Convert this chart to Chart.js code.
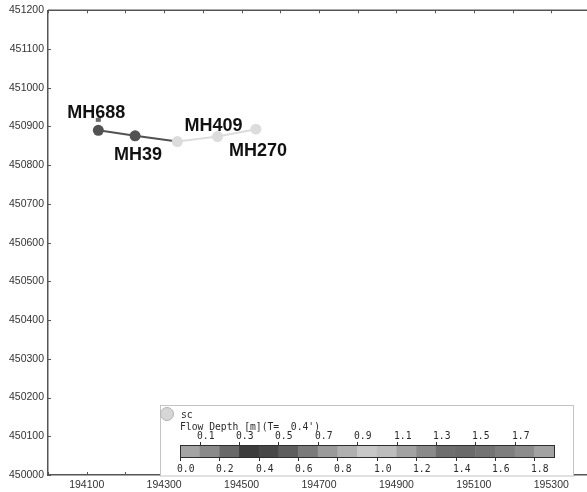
<!DOCTYPE html>
<html>
<head>
<meta charset="utf-8">
<script src="https://cdn.jsdelivr.net/npm/chart.js@4/dist/chart.umd.min.js"></script>
<style>
  html, body { margin: 0; padding: 0; background: #ffffff; overflow: hidden; }
  #wrap { width: 596px; height: 492px; }
</style>
</head>
<body>
<div id="wrap"><canvas id="c" width="596" height="492"></canvas></div>
<script>
// Manhole nodes along the pipe (map coordinates)
const nodeNames = ['MH688', 'MH39', '', 'MH409', 'MH270'];
const eastings  = [194130, 194225, 194334, 194438, 194537];
const northings = [450890, 450876, 450861, 450874, 450893];
// Flow-depth shade of each node (dark = deeper)
const nodeShades = ['#525252', '#525252', '#dcdcdc', '#dcdcdc', '#dcdcdc'];

// Flow depth colour scale (0.0 – 1.9 m, 0.1 m classes)
const depthMax = 1.9;
const depthColors = ['#a4a4a4', '#8a8a8a', '#686868', '#3c3c3c', '#474747', '#5e5e5e', '#7a7a7a',
                     '#9a9a9a', '#b0b0b0', '#c8c8c8', '#bdbdbd', '#a2a2a2', '#8a8a8a', '#6e6e6e',
                     '#6a6a6a', '#737373', '#7e7e7e', '#8c8c8c', '#a2a2a2'];
const depthLabelsTop    = ['0.1', '0.3', '0.5', '0.7', '0.9', '1.1', '1.3', '1.5', '1.7'];
const depthLabelsBottom = ['0.0', '0.2', '0.4', '0.6', '0.8', '1.0', '1.2', '1.4', '1.6', '1.8'];
const legendTitle = 'sc';
const legendCaption = "Flow Depth [m](T=  0.4')";

// Axis ranges
const xMin = 194000, xMax = 195400, yMin = 450000, yMax = 451200, tickStep = 100;

// Label placement around each node: [dx, baseline dy]
const nameOffsets = [[-2, -12], [3, 24], [0, 0], [-4, -6], [2, 27]];

const axisColor = '#555555';

const frameTicks = {
  id: 'frameTicks',
  afterDraw(chart) {
    const { ctx, chartArea: a, scales: { x, y } } = chart;
    ctx.save();
    ctx.strokeStyle = axisColor;
    ctx.lineWidth = 1.5;
    ctx.beginPath();
    ctx.moveTo(a.left, a.top); ctx.lineTo(a.right, a.top); ctx.lineTo(a.right, a.bottom);
    ctx.stroke();
    ctx.lineWidth = 1;
    ctx.beginPath();
    x.ticks.forEach(t => {
      const px = Math.round(x.getPixelForValue(t.value)) + 0.5;
      ctx.moveTo(px, a.bottom); ctx.lineTo(px, a.bottom - 3);
      ctx.moveTo(px, a.top); ctx.lineTo(px, a.top + 3);
    });
    y.ticks.forEach(t => {
      const py = Math.round(y.getPixelForValue(t.value)) + 0.5;
      ctx.moveTo(a.left, py); ctx.lineTo(a.left + 3, py);
      ctx.moveTo(a.right, py); ctx.lineTo(a.right - 3, py);
    });
    ctx.stroke();
    ctx.restore();
  }
};

const nodeLabels = {
  id: 'nodeLabels',
  afterDatasetsDraw(chart) {
    const { ctx } = chart;
    const pts = chart.getDatasetMeta(0).data;
    ctx.save();
    // small flag marker at the upstream node
    ctx.fillStyle = '#6a6a6a';
    ctx.fillRect(pts[0].x - 2.5, pts[0].y - 12.5, 5, 4);
    ctx.font = 'bold 18px "Liberation Sans", Arial, sans-serif';
    ctx.fillStyle = '#111111';
    ctx.textAlign = 'center';
    ctx.textBaseline = 'alphabetic';
    nodeNames.forEach((name, i) => {
      if (!name) return;
      ctx.fillText(name, pts[i].x + nameOffsets[i][0], pts[i].y + nameOffsets[i][1]);
    });
    ctx.restore();
  }
};

const depthLegend = {
  id: 'depthLegend',
  afterDraw(chart) {
    const { ctx } = chart;
    const box = { l: 160.5, t: 405.5, r: 573.5, b: 476 };
    const bar = { l: 180, r: 554, t: 445, b: 457 };
    const vx = v => bar.l + (v / depthMax) * (bar.r - bar.l);
    ctx.save();
    ctx.fillStyle = '#ffffff';
    ctx.fillRect(box.l, box.t, box.r - box.l, box.b - box.t);
    ctx.strokeStyle = '#c4c4c4';
    ctx.lineWidth = 1;
    ctx.strokeRect(box.l, box.t, box.r - box.l, box.b - box.t);

    // symbol
    ctx.beginPath();
    ctx.arc(167, 414, 6.5, 0, Math.PI * 2);
    ctx.fillStyle = '#d6d6d6';
    ctx.fill();
    ctx.strokeStyle = '#b4b4b4';
    ctx.stroke();

    ctx.font = '9.7px "DejaVu Sans Mono", monospace';
    ctx.fillStyle = '#2a2a2a';
    ctx.textAlign = 'left';
    ctx.textBaseline = 'alphabetic';
    ctx.fillText(legendTitle, 181, 418);
    ctx.fillText(legendCaption, 180, 430);

    // colour classes
    depthColors.forEach((c, i) => {
      const x0 = vx(i * 0.1), x1 = vx((i + 1) * 0.1);
      ctx.fillStyle = c;
      ctx.fillRect(x0, bar.t, x1 - x0 + 0.5, bar.b - bar.t);
    });
    ctx.strokeStyle = '#2e2e2e';
    ctx.strokeRect(bar.l + 0.5, bar.t + 0.5, bar.r - bar.l, bar.b - bar.t);

    ctx.fillStyle = '#2a2a2a';
    ctx.beginPath();
    depthLabelsTop.forEach(s => {
      const px = Math.round(vx(parseFloat(s))) + 0.5;
      ctx.moveTo(px, bar.t - 3); ctx.lineTo(px, bar.t);
      ctx.fillText(s, px - 3.5, 439);
    });
    depthLabelsBottom.forEach(s => {
      const px = Math.round(vx(parseFloat(s))) + 0.5;
      ctx.moveTo(px, bar.b); ctx.lineTo(px, bar.b + 4);
      ctx.fillText(s, px - 3.5, 472);
    });
    ctx.stroke();
    ctx.restore();
  }
};

new Chart(document.getElementById('c'), {
  type: 'line',
  data: {
    datasets: [{
      data: eastings.map((e, i) => ({ x: e, y: northings[i] })),
      borderWidth: 2,
      segment: { borderColor: ctx => nodeShades[ctx.p0DataIndex] },
      borderColor: nodeShades[0],
      pointBackgroundColor: nodeShades,
      pointBorderColor: nodeShades,
      pointRadius: 5.5,
      pointBorderWidth: 0,
      tension: 0
    }]
  },
  options: {
    responsive: false,
    animation: false,
    devicePixelRatio: 1,
    layout: { padding: { top: 10, right: 6, left: 0, bottom: 0 } },
    plugins: { legend: { display: false }, tooltip: { enabled: false } },
    scales: {
      x: {
        type: 'linear', min: xMin, max: xMax,
        afterFit: s => { s.height = 17; },
        grid: { display: false, drawTicks: false },
        border: { display: true, color: axisColor, width: 1.5 },
        ticks: {
          stepSize: tickStep, autoSkip: false, maxRotation: 0, padding: 4,
          color: '#333333', font: { family: '"Liberation Sans", Arial, sans-serif', size: 10.5 },
          callback: v => ((v - 194100) % 200 === 0 ? String(v) : '')
        }
      },
      y: {
        type: 'linear', min: yMin, max: yMax,
        afterFit: s => { s.width = 48; },
        grid: { display: false, drawTicks: false },
        border: { display: true, color: axisColor, width: 1.5 },
        ticks: {
          stepSize: tickStep, autoSkip: false, padding: 4,
          color: '#333333', font: { family: '"Liberation Sans", Arial, sans-serif', size: 10.5 },
          callback: v => String(v)
        }
      }
    }
  },
  plugins: [frameTicks, nodeLabels, depthLegend]
});
</script>
</body>
</html>
